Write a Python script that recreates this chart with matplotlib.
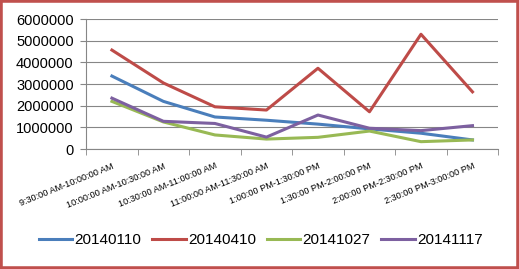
import matplotlib.pyplot as plt
from matplotlib.patches import Rectangle

# Time slots and series values
slots = ['9:30:00 AM-10:00:00 AM', '10:00:00 AM-10:30:00 AM', '10:30:00 AM-11:00:00 AM',
         '11:00:00 AM-11:30:00 AM', '1:00:00 PM-1:30:00 PM', '1:30:00 PM-2:00:00 PM',
         '2:00:00 PM-2:30:00 PM', '2:30:00 PM-3:00:00 PM']
s_20140110 = [3370000, 2200000, 1480000, 1330000, 1150000, 930000, 730000, 420000]
s_20140410 = [4570000, 3050000, 1950000, 1800000, 3730000, 1720000, 5300000, 2640000]
s_20141027 = [2200000, 1250000, 650000, 460000, 540000, 830000, 340000, 420000]
s_20141117 = [2350000, 1280000, 1180000, 550000, 1570000, 960000, 850000, 1080000]

plt.rcParams['font.family'] = ['Liberation Sans', 'DejaVu Sans']

fig = plt.figure(figsize=(5.19, 2.69), dpi=100)
ax = fig.add_axes([0.166, 0.446, 0.794, 0.483])

x = range(len(slots))
ax.plot(x, s_20140110, color='#4A7EBB', linewidth=2.2, label='20140110')
ax.plot(x, s_20140410, color='#BE4B48', linewidth=2.2, label='20140410')
ax.plot(x, s_20141027, color='#98B954', linewidth=2.2, label='20141027')
ax.plot(x, s_20141117, color='#7D60A0', linewidth=2.2, label='20141117')

ax.set_xlim(-0.5, len(slots) - 0.5)
ax.set_ylim(0, 6000000)
ax.set_yticks(range(0, 6000001, 1000000))
ax.set_yticklabels([str(v) for v in range(0, 6000001, 1000000)], fontsize=10.5)
ax.yaxis.grid(True, color='#868686', linewidth=0.8)
ax.set_axisbelow(True)

ax.set_xticks(list(x))
ax.set_xticklabels(slots, rotation=22, ha='right', rotation_mode='anchor', fontsize=6.6)
ax.set_xticks([i - 0.5 for i in range(len(slots) + 1)], minor=True)
ax.tick_params(axis='x', which='major', length=0, pad=9)
ax.tick_params(axis='x', which='minor', length=4, color='#868686')
ax.tick_params(axis='y', length=4, color='#868686', pad=5)

for side in ['top', 'right']:
    ax.spines[side].set_visible(False)
ax.spines['left'].set_color('#868686')
ax.spines['bottom'].set_color('#868686')

fig.legend(loc='center', bbox_to_anchor=(0.502, 0.108), ncol=4, frameon=False,
           fontsize=11, handlelength=2.2, handletextpad=0.15, columnspacing=0.7)

fig.patches.append(Rectangle((0, 0), 1, 1, transform=fig.transFigure, fill=False,
                             edgecolor='#C0504D', linewidth=4))

fig.savefig('out.png', dpi=100)
